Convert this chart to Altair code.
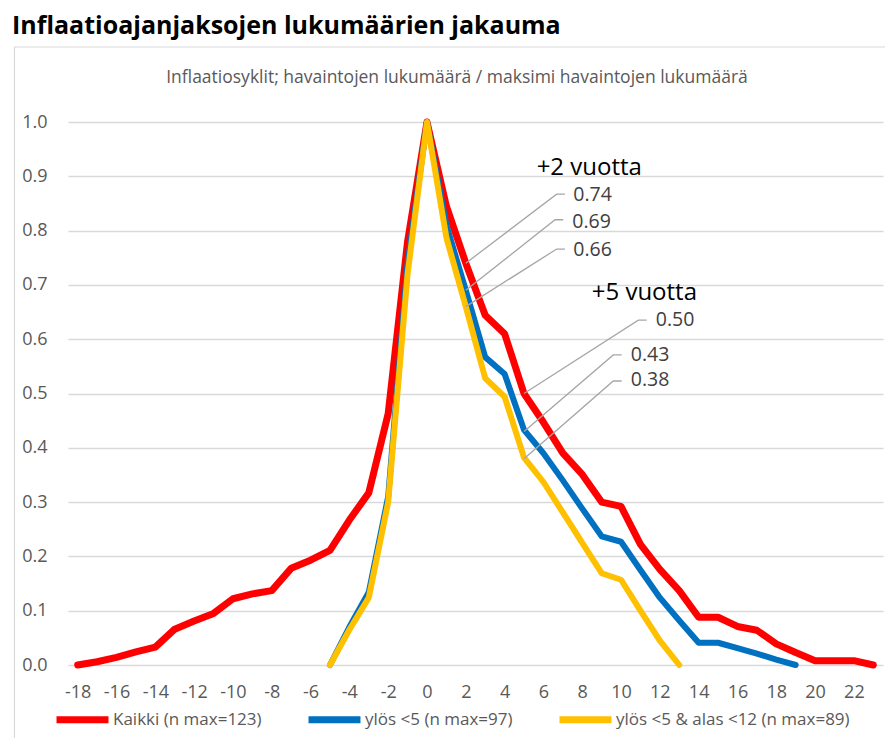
import altair as alt
import pandas as pd

# ---- data ----
x_vals = list(range(-18, 24))
kaikki = [0.0, 0.006, 0.014, 0.024, 0.033, 0.066, 0.081, 0.095, 0.122, 0.131, 0.137, 0.178,
          0.193, 0.211, 0.267, 0.317, 0.463, 0.78,
          1.0, 0.845, 0.74, 0.644, 0.61, 0.50, 0.447, 0.39, 0.351, 0.30, 0.292, 0.222,
          0.176, 0.137, 0.088, 0.088, 0.071, 0.064, 0.039, 0.023, 0.008, 0.008, 0.008, 0.0]
ylos5 = [None] * 13 + [0.0, 0.07, 0.134, 0.31, 0.74, 1.0, 0.81, 0.69, 0.567, 0.536, 0.433,
                       0.39, 0.34, 0.288, 0.237, 0.227, 0.175, 0.124, 0.082, 0.041, 0.041,
                       0.031, 0.021, 0.01, 0.0] + [None] * 4
ylos5_alas12 = [None] * 13 + [0.0, 0.065, 0.124, 0.30, 0.72, 1.0, 0.787, 0.66, 0.528, 0.494,
                              0.382, 0.337, 0.281, 0.225, 0.169, 0.157, 0.10, 0.045, 0.0] + [None] * 10

series_names = ["Kaikki (n max=123)", "ylös <5 (n max=97)", "ylös <5 & alas <12 (n max=89)"]
series_colors = ["#FF0000", "#0070C0", "#FFC000"]
series_widths = [7, 6, 6]
x_ticks = list(range(-18, 23, 2))
y_ticks = [round(i * 0.1, 1) for i in range(11)]

# annotations (data units)
ann_labels = ["0.74", "0.69", "0.66", "0.50", "0.43", "0.38"]
ann_anchor_x = [2, 2, 2, 5, 5, 5]
ann_anchor_y = [0.74, 0.69, 0.66, 0.50, 0.43, 0.38]
ann_elbow_x = [6.68, 6.60, 6.68, 10.89, 9.60, 9.60]
ann_elbow_y = [0.867, 0.820, 0.766, 0.635, 0.571, 0.523]
ann_end_x = [7.11, 7.02, 7.11, 11.32, 10.03, 10.03]
ann_text_x = [7.54, 7.49, 7.54, 11.79, 10.50, 10.50]
ann_text_y = [0.866, 0.816, 0.764, 0.635, 0.570, 0.524]
head_labels = ["+2 vuotta", "+5 vuotta"]
head_x = [5.65, 8.49]
head_y = [0.915, 0.686]

title_text = "Inflaatioajanjaksojen lukumäärien jakauma"
subtitle_text = "Inflaatiosyklit; havaintojen lukumäärä / maksimi havaintojen lukumäärä"

FONT = "Open Sans"

# ---- tables ----
rows = []
for name, vals in zip(series_names, [kaikki, ylos5, ylos5_alas12]):
    for xv, yv in zip(x_vals, vals):
        if yv is not None:
            rows.append({"x": xv, "y": yv, "sarja": name})
df = pd.DataFrame(rows)

lead_rows = []
for i in range(len(ann_labels)):
    lead_rows.append({"id": i, "o": 0, "x": ann_anchor_x[i], "y": ann_anchor_y[i]})
    lead_rows.append({"id": i, "o": 1, "x": ann_elbow_x[i], "y": ann_elbow_y[i]})
    lead_rows.append({"id": i, "o": 2, "x": ann_end_x[i], "y": ann_elbow_y[i]})
lead_df = pd.DataFrame(lead_rows)
ann_df = pd.DataFrame({"x": ann_text_x, "y": ann_text_y, "t": ann_labels})
head_df = pd.DataFrame({"x": head_x, "y": head_y, "t": head_labels})

xscale = alt.Scale(domain=[-18.5, 23.5], nice=False, zero=False)
yscale = alt.Scale(domain=[0, 1], nice=False)
color_scale = alt.Scale(domain=series_names, range=series_colors)

x_axis = alt.Axis(values=x_ticks, grid=False, domain=False, ticks=False, title=None,
                  labelFont=FONT, labelFontSize=18, labelColor="#595959", labelPadding=18,
                  labelFlush=False, labelExpr="toString(datum.value)")
y_axis = alt.Axis(values=y_ticks, format=".1f", grid=True, gridColor="#d9d9d9", gridWidth=1.3,
                  domain=False, ticks=False, title=None, labelFont=FONT, labelFontSize=18,
                  labelColor="#595959", labelPadding=21)

W, H = 815, 543

frame = alt.Chart(alt.Data(values=[{}])).mark_rect(
    fill=None, stroke="#d9d9d9", strokeWidth=1.2
).encode(x=alt.value(-53.5), x2=alt.value(840), y=alt.value(-75), y2=alt.value(660))

title = alt.Chart(alt.Data(values=[{}])).mark_text(
    text=title_text, font=FONT, fontSize=25, fontWeight="bold", color="#000000",
    align="left", baseline="alphabetic"
).encode(x=alt.value(-56), y=alt.value(-88))

subtitle = alt.Chart(alt.Data(values=[{}])).mark_text(
    text=subtitle_text, font=FONT, fontSize=17.5, color="#595959",
    align="center", baseline="middle"
).encode(x=alt.value(389), y=alt.value(-44))

lines = []
for name, w in zip(series_names, series_widths):
    lines.append(
        alt.Chart(df[df["sarja"] == name]).mark_line(
            strokeWidth=w, strokeCap="round", strokeJoin="round"
        ).encode(
            x=alt.X("x:Q", scale=xscale, axis=x_axis),
            y=alt.Y("y:Q", scale=yscale, axis=y_axis),
            color=alt.Color("sarja:N", scale=color_scale, title=None,
                            legend=alt.Legend(orient="none", legendX=-15, legendY=568,
                                              direction="horizontal", columns=3,
                                              symbolType="stroke", symbolSize=2700,
                                              symbolStrokeWidth=7, labelFont=FONT,
                                              labelFontSize=17, labelColor="#595959",
                                              labelOffset=1, columnPadding=32, padding=0,
                                              labelLimit=400)),
        )
    )

leaders = alt.Chart(lead_df).mark_line(color="#a6a6a6", strokeWidth=1.3).encode(
    x=alt.X("x:Q", scale=xscale), y=alt.Y("y:Q", scale=yscale),
    detail="id:N", order="o:Q"
)

ann = alt.Chart(ann_df).mark_text(
    font=FONT, fontSize=19.5, color="#404040", align="left", baseline="middle"
).encode(x=alt.X("x:Q", scale=xscale), y=alt.Y("y:Q", scale=yscale), text="t:N")

heads = alt.Chart(head_df).mark_text(
    font=FONT, fontSize=24, color="#000000", align="left", baseline="middle"
).encode(x=alt.X("x:Q", scale=xscale), y=alt.Y("y:Q", scale=yscale), text="t:N")

chart = alt.layer(frame, title, subtitle, *lines, leaders, ann, heads).properties(
    width=W, height=H,
    autosize=alt.AutoSizeParams(type="none"),
    padding={"left": 60, "top": 114, "right": 2, "bottom": 73},
).configure_view(stroke=None)

chart.save("out.html", embed_options={"renderer": "svg", "actions": False})
